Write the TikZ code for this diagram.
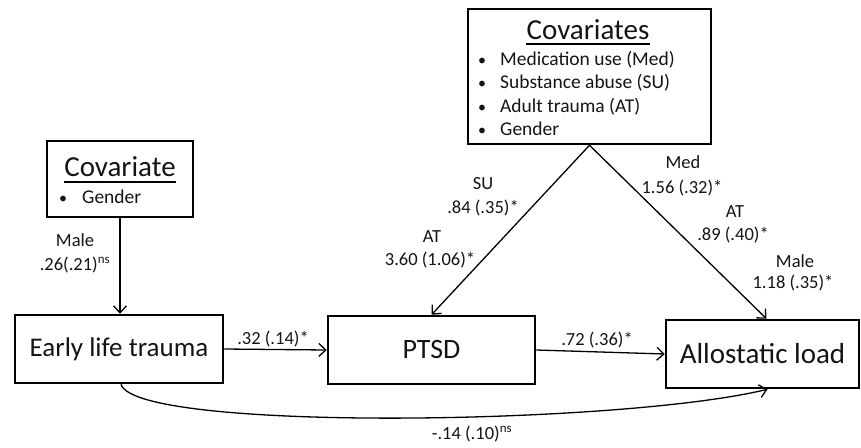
\documentclass[tikz,border=0pt]{standalone}
\usepackage{fontspec}
\setmainfont{Carlito}
\usetikzlibrary{arrows.meta}
\tikzset{
  mybox/.style={draw, line width=2.5pt, rectangle, inner sep=0pt},
  lbl/.style={anchor=base, inner sep=0pt, font=\fontsize{18.5}{20}\selectfont, text=black!92},
  bul/.style={anchor=base, inner sep=0pt, font=\fontsize{19.5}{21}\selectfont, text=black!92},
  ttl/.style={anchor=base, inner sep=0pt, font=\fontsize{29}{31}\selectfont, text=black!92},
  arr/.style={line width=1.3pt, -{Straight Barb[length=7pt,width=13pt,line width=1.3pt]}},
  uline/.style={line width=1.6pt}
}
\begin{document}
\begin{tikzpicture}[x=1pt,y=-1pt]
\useasboundingbox (0,0) rectangle (861,447);

% boxes
\node[mybox, minimum width=146pt, minimum height=76pt] (covl) at (120,179) {};
\node[mybox, minimum width=243pt, minimum height=135pt] (cov) at (589.5,76.5) {};
\node[mybox, minimum width=208pt, minimum height=68pt, font=\fontsize{27}{29}\selectfont, text=black!92] (elt) at (119,349) {Early life trauma};
\node[mybox, minimum width=207pt, minimum height=68pt, font=\fontsize{28}{30}\selectfont, text=black!92] (ptsd) at (431.5,350) {PTSD};
\node[mybox, minimum width=193pt, minimum height=68pt, font=\fontsize{29}{31}\selectfont, text=black!92] (al) at (762.5,354) {Allostatic load};

% left covariate text
\node[ttl] (covlt) at (120,176) {Covariate};
\draw[uline] ([yshift=-6pt]covlt.base west) -- ([yshift=-6pt]covlt.base east);
\node[bul, font=\fontsize{16}{18}\selectfont] (covlb) at (63,203) {•};
\node[bul, anchor=base west] (covlg) at (82,203) {Gender};

% covariates text
\node[ttl] (covt) at (588,39) {Covariates};
\draw[uline] ([yshift=-5pt]covt.base west) -- ([yshift=-5pt]covt.base east);
\node[bul, font=\fontsize{16}{18}\selectfont] (cb1) at (482,65) {•};
\node[bul, font=\fontsize{16}{18}\selectfont] (cb2) at (482,88) {•};
\node[bul, font=\fontsize{16}{18}\selectfont] (cb3) at (482,112) {•};
\node[bul, font=\fontsize{16}{18}\selectfont] (cb4) at (482,135) {•};
\node[bul, anchor=base west] (ct1) at (500,65) {Medication use (Med)};
\node[bul, anchor=base west] (ct2) at (500,88) {Substance abuse (SU)};
\node[bul, anchor=base west] (ct3) at (500,112) {Adult trauma (AT)};
\node[bul, anchor=base west] (ct4) at (500,135) {Gender};

% connectors
\draw[arr] (covl.south) -- (covl.south |- elt.north);
\draw[arr] (elt.east) -- (ptsd.west);
\draw[arr] (ptsd.east) -- (al.west);
\draw[arr] (cov.south) -- (ptsd.north);
\draw[arr] (cov.south) -- ([xshift=4pt]al.north);
\draw[arr] ([xshift=2pt]elt.south) .. controls (135,432) and (620,425) .. ([xshift=5pt]al.south);

% labels
\node[lbl] (l1) at (75,246) {Male};
\node[lbl] (l2) at (75,270) {.26(.21)\textsuperscript{ns}};
\node[lbl] (l3) at (273,344) {.32 (.14)*};
\node[lbl] (l4) at (597,345) {.72 (.36)*};
\node[lbl] (l5) at (472,439) {-.14 (.10)\textsuperscript{ns}};
\node[lbl] (l6) at (483,189) {SU};
\node[lbl] (l7) at (483,213) {.84 (.35)*};
\node[lbl] (l8) at (432,242) {AT};
\node[lbl] (l9) at (430,265) {3.60 (1.06)*};
\node[lbl] (l10) at (683,168) {Med};
\node[lbl] (l11) at (682,193) {1.56 (.32)*};
\node[lbl] (l12) at (735,217) {AT};
\node[lbl] (l13) at (733,240) {.89 (.40)*};
\node[lbl] (l14) at (795,267) {Male};
\node[lbl] (l15) at (793,288) {1.18 (.35)*};
\end{tikzpicture}
\end{document}
